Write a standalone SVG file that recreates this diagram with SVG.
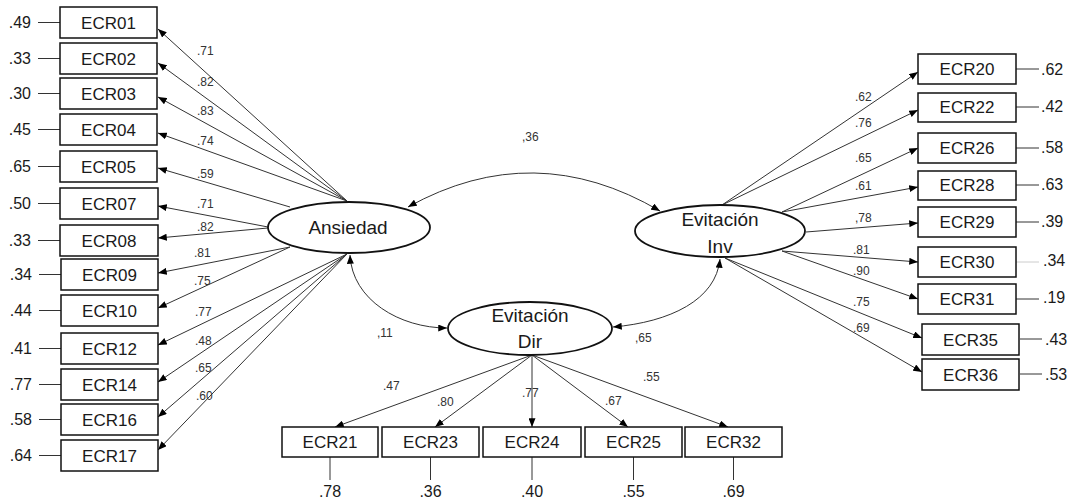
<svg xmlns="http://www.w3.org/2000/svg" width="1070" height="503" viewBox="0 0 1070 503">
<defs>
<marker id="ah" viewBox="0 0 10 8" refX="10" refY="4" markerWidth="9" markerHeight="7" markerUnits="userSpaceOnUse" orient="auto-start-reverse"><path d="M0,0 L10,4 L0,8 z" fill="#000"/></marker>
<style>
.box{fill:#fff;stroke:#111;stroke-width:1.5}
.lat{fill:#fff;stroke:#111;stroke-width:1.8}
.t{font-family:"Liberation Sans",Arial,sans-serif;fill:#1a1a1a}
.bt{font-size:17px;text-anchor:middle}
.lt{font-size:19px;text-anchor:middle}
.rv{font-size:16px}
.ld{font-size:12px;fill:#333}
.ln{stroke:#333;stroke-width:1;fill:none;marker-end:url(#ah)}
.cv{stroke:#333;stroke-width:1;fill:none;marker-end:url(#ah);marker-start:url(#ah)}
.rl{stroke:#333;stroke-width:1}
</style>
</defs>
<rect width="1070" height="503" fill="#fff"/>

<g id="connectors">
<!-- Ansiedad loadings -->
<line class="ln" x1="347" y1="201" x2="158" y2="29"/>
<line class="ln" x1="347" y1="201" x2="158" y2="63"/>
<line class="ln" x1="347" y1="201" x2="158" y2="97"/>
<line class="ln" x1="347" y1="201" x2="158" y2="133"/>
<line class="ln" x1="290" y1="207" x2="158" y2="168"/>
<line class="ln" x1="268" y1="227" x2="158" y2="206"/>
<line class="ln" x1="268" y1="228" x2="158" y2="238"/>
<line class="ln" x1="290" y1="247" x2="158" y2="273"/>
<line class="ln" x1="290" y1="247" x2="158" y2="308"/>
<line class="ln" x1="347" y1="254" x2="158" y2="345"/>
<line class="ln" x1="347" y1="254" x2="158" y2="382"/>
<line class="ln" x1="347" y1="254" x2="158" y2="417"/>
<line class="ln" x1="347" y1="254" x2="158" y2="450"/>
<!-- Evitacion Inv loadings -->
<line class="ln" x1="722" y1="205" x2="918" y2="72"/>
<line class="ln" x1="722" y1="205" x2="918" y2="110"/>
<line class="ln" x1="782" y1="212" x2="918" y2="148"/>
<line class="ln" x1="782" y1="212" x2="918" y2="187"/>
<line class="ln" x1="806" y1="232" x2="918" y2="223"/>
<line class="ln" x1="782" y1="251" x2="918" y2="262"/>
<line class="ln" x1="782" y1="251" x2="918" y2="299"/>
<line class="ln" x1="725" y1="258" x2="922" y2="338"/>
<line class="ln" x1="725" y1="258" x2="922" y2="372"/>
<!-- Evitacion Dir loadings -->
<line class="ln" x1="532" y1="355" x2="335" y2="427"/>
<line class="ln" x1="532" y1="355" x2="435" y2="427"/>
<line class="ln" x1="532" y1="355" x2="532" y2="427"/>
<line class="ln" x1="532" y1="355" x2="628" y2="427"/>
<line class="ln" x1="532" y1="355" x2="728" y2="427"/>
<!-- correlations -->
<path class="cv" d="M408,207 Q534,137 660,211"/>
<path class="cv" d="M350,255 C352,300 400,328 447,328"/>
<path class="cv" d="M613,327 C670,322 716,300 720,259"/>
<!-- residual lines -->
<g>
<line class="rl" x1="38" y1="22.5" x2="60" y2="22.5"/>
<line class="rl" x1="38" y1="58.5" x2="60" y2="58.5"/>
<line class="rl" x1="38" y1="93.5" x2="60" y2="93.5"/>
<line class="rl" x1="38" y1="129.5" x2="60" y2="129.5"/>
<line class="rl" x1="38" y1="166.5" x2="60" y2="166.5"/>
<line class="rl" x1="38" y1="203.5" x2="60" y2="203.5"/>
<line class="rl" x1="38" y1="240.5" x2="60" y2="240.5"/>
<line class="rl" x1="39" y1="274.5" x2="61" y2="274.5"/>
<line class="rl" x1="39" y1="310.5" x2="61" y2="310.5"/>
<line class="rl" x1="39" y1="348.5" x2="61" y2="348.5"/>
<line class="rl" x1="39" y1="384.5" x2="61" y2="384.5"/>
<line class="rl" x1="39" y1="419.5" x2="61" y2="419.5"/>
<line class="rl" x1="39" y1="455.5" x2="61" y2="455.5"/>
<line class="rl" x1="1016" y1="69" x2="1039" y2="69"/>
<line class="rl" x1="1016" y1="107" x2="1039" y2="107"/>
<line class="rl" x1="1016" y1="148" x2="1039" y2="148"/>
<line class="rl" x1="1016" y1="185" x2="1039" y2="185"/>
<line class="rl" x1="1016" y1="222" x2="1039" y2="222"/>
<line x1="1016" y1="262" x2="1039" y2="262" stroke="#ccc" stroke-width="1"/>
<line class="rl" x1="1016" y1="299" x2="1039" y2="299"/>
<line class="rl" x1="1020" y1="339" x2="1042" y2="339"/>
<line class="rl" x1="1020" y1="374" x2="1042" y2="374"/>
<line class="rl" x1="330" y1="457" x2="330" y2="480"/>
<line class="rl" x1="430.5" y1="457" x2="430.5" y2="480"/>
<line class="rl" x1="532" y1="457" x2="532" y2="480"/>
<line class="rl" x1="633.5" y1="457" x2="633.5" y2="480"/>
<line class="rl" x1="733.5" y1="457" x2="733.5" y2="480"/>
</g>
</g>

<!-- latent nodes -->
<g id="Ansiedad">
<ellipse class="lat" cx="349" cy="227.5" rx="81" ry="25.5"/>
<text class="t lt" x="348" y="234">Ansiedad</text>
</g>
<g id="EvitacionInv">
<ellipse class="lat" cx="720" cy="231" rx="85" ry="26"/>
<text class="t lt" x="720" y="226">Evitación</text>
<text class="t lt" x="720" y="253">Inv</text>
</g>
<g id="EvitacionDir">
<ellipse class="lat" cx="530" cy="328.5" rx="82" ry="26.5"/>
<text class="t lt" x="530" y="322">Evitación</text>
<text class="t lt" x="530" y="348">Dir</text>
</g>

<!-- left observed -->
<g id="ECR01"><rect class="box" x="60" y="7" width="97" height="31"/><text class="t bt" x="108.5" y="29">ECR01</text><text class="t rv" x="31" y="28" text-anchor="end">.49</text></g>
<g id="ECR02"><rect class="box" x="60" y="43" width="97" height="31"/><text class="t bt" x="108.5" y="65">ECR02</text><text class="t rv" x="31" y="64" text-anchor="end">.33</text></g>
<g id="ECR03"><rect class="box" x="60" y="78" width="97" height="31"/><text class="t bt" x="108.5" y="100">ECR03</text><text class="t rv" x="31" y="99" text-anchor="end">.30</text></g>
<g id="ECR04"><rect class="box" x="60" y="114" width="97" height="31"/><text class="t bt" x="108.5" y="136">ECR04</text><text class="t rv" x="31" y="135" text-anchor="end">.45</text></g>
<g id="ECR05"><rect class="box" x="60" y="151" width="97" height="31"/><text class="t bt" x="108.5" y="173">ECR05</text><text class="t rv" x="31" y="172" text-anchor="end">.65</text></g>
<g id="ECR07"><rect class="box" x="60" y="188" width="98" height="31"/><text class="t bt" x="109" y="210">ECR07</text><text class="t rv" x="31" y="209" text-anchor="end">.50</text></g>
<g id="ECR08"><rect class="box" x="60" y="225" width="98" height="31"/><text class="t bt" x="109" y="247">ECR08</text><text class="t rv" x="31" y="246" text-anchor="end">.33</text></g>
<g id="ECR09"><rect class="box" x="61" y="259" width="97" height="31"/><text class="t bt" x="109.5" y="281">ECR09</text><text class="t rv" x="32" y="280" text-anchor="end">.34</text></g>
<g id="ECR10"><rect class="box" x="61" y="295" width="97" height="31"/><text class="t bt" x="109.5" y="317">ECR10</text><text class="t rv" x="32" y="316" text-anchor="end">.44</text></g>
<g id="ECR12"><rect class="box" x="61" y="333" width="97" height="31"/><text class="t bt" x="109.5" y="355">ECR12</text><text class="t rv" x="32" y="354" text-anchor="end">.41</text></g>
<g id="ECR14"><rect class="box" x="61" y="369" width="97" height="31"/><text class="t bt" x="109.5" y="391">ECR14</text><text class="t rv" x="32" y="390" text-anchor="end">.77</text></g>
<g id="ECR16"><rect class="box" x="61" y="404" width="97" height="31"/><text class="t bt" x="109.5" y="426">ECR16</text><text class="t rv" x="32" y="425" text-anchor="end">.58</text></g>
<g id="ECR17"><rect class="box" x="61" y="440" width="97" height="31"/><text class="t bt" x="109.5" y="462">ECR17</text><text class="t rv" x="32" y="461" text-anchor="end">.64</text></g>

<!-- right observed -->
<g id="ECR20"><rect class="box" x="918" y="54" width="98" height="30"/><text class="t bt" x="967" y="75">ECR20</text><text class="t rv" x="1041" y="75">.62</text></g>
<g id="ECR22"><rect class="box" x="918" y="93" width="98" height="29"/><text class="t bt" x="967" y="113">ECR22</text><text class="t rv" x="1041" y="112">.42</text></g>
<g id="ECR26"><rect class="box" x="918" y="133" width="98" height="30"/><text class="t bt" x="967" y="154">ECR26</text><text class="t rv" x="1041" y="153">.58</text></g>
<g id="ECR28"><rect class="box" x="918" y="171" width="98" height="29"/><text class="t bt" x="967" y="191">ECR28</text><text class="t rv" x="1041" y="190">.63</text></g>
<g id="ECR29"><rect class="box" x="918" y="207" width="98" height="30"/><text class="t bt" x="967" y="228">ECR29</text><text class="t rv" x="1041" y="227">.39</text></g>
<g id="ECR30"><rect class="box" x="918" y="247" width="98" height="30"/><text class="t bt" x="967" y="268">ECR30</text><text class="t rv" x="1043" y="266">.34</text></g>
<g id="ECR31"><rect class="box" x="918" y="284" width="98" height="30"/><text class="t bt" x="967" y="305">ECR31</text><text class="t rv" x="1043" y="303">.19</text></g>
<g id="ECR35"><rect class="box" x="922" y="324" width="97" height="31"/><text class="t bt" x="970.5" y="346">ECR35</text><text class="t rv" x="1045" y="345">.43</text></g>
<g id="ECR36"><rect class="box" x="922" y="359" width="97" height="31"/><text class="t bt" x="970.5" y="381">ECR36</text><text class="t rv" x="1045" y="380">.53</text></g>

<!-- bottom observed -->
<g id="ECR21"><rect class="box" x="282" y="427" width="96" height="30"/><text class="t bt" x="330" y="448">ECR21</text><text class="t rv" x="330" y="497" text-anchor="middle">.78</text></g>
<g id="ECR23"><rect class="box" x="382" y="427" width="97" height="30"/><text class="t bt" x="430.5" y="448">ECR23</text><text class="t rv" x="430.5" y="497" text-anchor="middle">.36</text></g>
<g id="ECR24"><rect class="box" x="483" y="427" width="98" height="30"/><text class="t bt" x="532" y="448">ECR24</text><text class="t rv" x="532" y="497" text-anchor="middle">.40</text></g>
<g id="ECR25"><rect class="box" x="585" y="427" width="97" height="30"/><text class="t bt" x="633.5" y="448">ECR25</text><text class="t rv" x="633.5" y="497" text-anchor="middle">.55</text></g>
<g id="ECR32"><rect class="box" x="685" y="427" width="97" height="30"/><text class="t bt" x="733.5" y="448">ECR32</text><text class="t rv" x="733.5" y="497" text-anchor="middle">.69</text></g>

<!-- loading labels -->
<g id="labels" class="t ld">
<text x="197" y="55">.71</text>
<text x="197" y="86">.82</text>
<text x="197" y="115">.83</text>
<text x="197" y="145">.74</text>
<text x="197" y="178">.59</text>
<text x="197" y="208">.71</text>
<text x="197" y="231">.82</text>
<text x="194" y="257">.81</text>
<text x="194" y="285">.75</text>
<text x="195" y="316">.77</text>
<text x="195" y="345">.48</text>
<text x="195" y="372">.65</text>
<text x="196" y="400">.60</text>
<text x="855" y="101">.62</text>
<text x="855" y="127">.76</text>
<text x="855" y="162">.65</text>
<text x="855" y="190">.61</text>
<text x="855" y="222">,78</text>
<text x="853" y="254">.81</text>
<text x="853" y="275">.90</text>
<text x="853" y="306">.75</text>
<text x="853" y="332">.69</text>
<text x="383" y="390">.47</text>
<text x="437" y="406">.80</text>
<text x="522" y="397">.77</text>
<text x="605" y="405">.67</text>
<text x="643" y="381">.55</text>
<text x="522" y="141">,36</text>
<text x="377" y="337">,11</text>
<text x="635" y="342">,65</text>
</g>
</svg>
